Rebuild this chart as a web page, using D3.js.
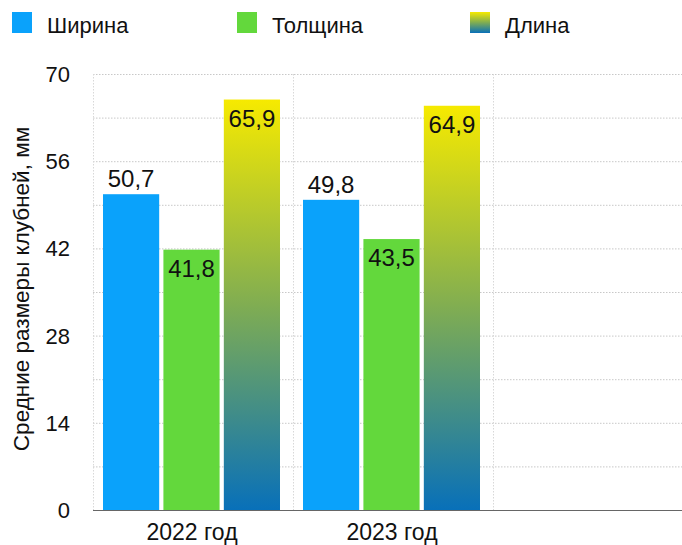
<!DOCTYPE html>
<html>
<head>
<meta charset="utf-8">
<script src="https://cdn.jsdelivr.net/npm/d3@7"></script>
<style>
	body { margin: 0; background: #fff; }
	text { font-family: "Liberation Sans", Arial, sans-serif; fill: #111; }
</style>
</head>
<body>
<script>
//data for the chart
var years = ["2022 год", "2023 год", ""];
var seriesNames = ["Ширина", "Толщина", "Длина"];
var widthVals = [50.7, 49.8];
var thickVals = [41.8, 43.5];
var lengthVals = [65.9, 64.9];
var yTicks = [0, 14, 28, 42, 56, 70];
var gridTicks = [7, 14, 21, 28, 35, 42, 49, 56, 63, 70];

window.onload = function(){

	var w = 682, h = 545;
	var left = 93, right = 693, top = 74, bottom = 510;

	var svg = d3.select("body")
		.append("svg")
		.attr("width", w)
		.attr("height", h);

	//gradient for "Длина"
	var defs = svg.append("defs");
	var grad = defs.append("linearGradient")
		.attr("id", "lenGrad")
		.attr("x1", 0).attr("y1", 0)
		.attr("x2", 0).attr("y2", 1);
	grad.append("stop").attr("offset", "0%").attr("stop-color", "#f6ea00");
	grad.append("stop").attr("offset", "50%").attr("stop-color", "#80ad52");
	grad.append("stop").attr("offset", "100%").attr("stop-color", "#0870b9");

	var colors = ["#0aa2fb", "#63d83c", "url(#lenGrad)"];

	//scales
	var x = d3.scaleBand()
		.domain(d3.range(years.length))
		.range([left, right]);

	var y = d3.scaleLinear()
		.domain([0, 70])
		.range([bottom, top]);

	var inner = d3.scaleBand()
		.domain(d3.range(seriesNames.length))
		.range([10, 187])
		.paddingInner(0.07);

	//horizontal grid lines
	svg.append("g")
		.selectAll("line")
		.data(gridTicks)
		.enter()
		.append("line")
		.attr("x1", left)
		.attr("x2", w)
		.attr("y1", function(d){ return y(d) + 0.5; })
		.attr("y2", function(d){ return y(d) + 0.5; })
		.style("stroke", "#c8c8c8")
		.style("stroke-width", 1)
		.style("stroke-dasharray", "1.5,1.5");

	//vertical grid lines
	svg.append("g")
		.selectAll("line")
		.data(d3.range(years.length + 1))
		.enter()
		.append("line")
		.attr("x1", function(d){ return left + d * x.bandwidth() + 0.5; })
		.attr("x2", function(d){ return left + d * x.bandwidth() + 0.5; })
		.attr("y1", top)
		.attr("y2", bottom)
		.style("stroke", "#d8d8d8")
		.style("stroke-width", 1)
		.style("stroke-dasharray", "1.5,1.5");

	//bars
	var series = [widthVals, thickVals, lengthVals];
	series.forEach(function(vals, s){
		svg.append("g")
			.selectAll("rect")
			.data(vals)
			.enter()
			.append("rect")
			.attr("x", function(d, i){ return x(i) + inner(s); })
			.attr("y", function(d){ return y(d); })
			.attr("width", inner.bandwidth())
			.attr("height", function(d){ return y(0) - y(d); })
			.style("fill", colors[s]);

		//value labels, blue above bar, others inside
		svg.append("g")
			.selectAll("text")
			.data(vals)
			.enter()
			.append("text")
			.attr("x", function(d, i){ return x(i) + inner(s) + inner.bandwidth() / 2; })
			.attr("y", function(d){ return s == 0 ? y(d) - 7 : y(d) + 27; })
			.attr("text-anchor", "middle")
			.style("font-size", "24px")
			.text(function(d){ return String(d).replace(".", ","); });
	});

	//baseline
	svg.append("line")
		.attr("x1", left)
		.attr("x2", w)
		.attr("y1", bottom + 0.5)
		.attr("y2", bottom + 0.5)
		.style("stroke", "#666")
		.style("stroke-width", 1.2);

	//y tick labels
	svg.append("g")
		.selectAll("text")
		.data(yTicks)
		.enter()
		.append("text")
		.attr("x", 70)
		.attr("y", function(d){ return y(d) + 8; })
		.attr("text-anchor", "end")
		.style("font-size", "22px")
		.text(function(d){ return d; });

	//x labels
	svg.append("g")
		.selectAll("text")
		.data(years)
		.enter()
		.append("text")
		.attr("x", function(d, i){ return x(i) + x.bandwidth() / 2 - 1; })
		.attr("y", 540)
		.attr("text-anchor", "middle")
		.style("font-size", "23px")
		.text(function(d){ return d; });

	//y axis title
	svg.append("text")
		.attr("transform", "translate(29, 289) rotate(-90)")
		.attr("text-anchor", "middle")
		.style("font-size", "22.5px")
		.text("Средние размеры клубней, мм");

	//legend
	var legendX = [12, 237, 470];
	var legend = svg.selectAll(".legend")
		.data(seriesNames)
		.enter()
		.append("g")
		.attr("class", "legend")
		.attr("transform", function(d, i){ return "translate(" + legendX[i] + ", 12)"; });

	legend.append("rect")
		.attr("width", 20)
		.attr("height", 21)
		.style("fill", function(d, i){ return colors[i]; });

	legend.append("text")
		.attr("x", 35)
		.attr("y", 21)
		.style("font-size", "22px")
		.text(function(d){ return d; });
};
</script>
</body>
</html>
